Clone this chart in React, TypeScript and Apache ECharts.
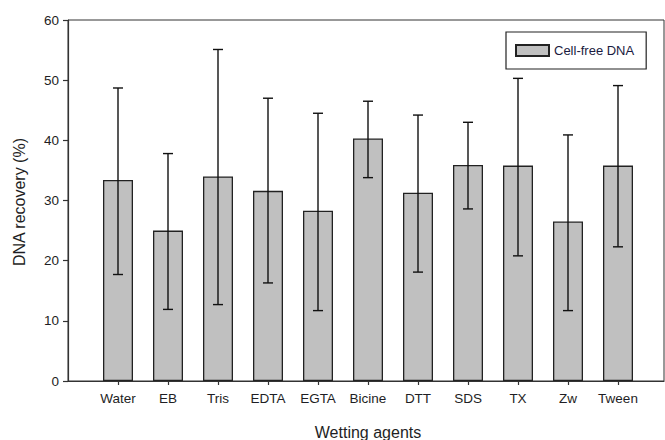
import React, { useEffect, useRef } from "react";
import * as echarts from "echarts";

const categories = ["Water", "EB", "Tris", "EDTA", "EGTA", "Bicine", "DTT", "SDS", "TX", "Zw", "Tween"];
const means = [33.4, 25.0, 34.0, 31.6, 28.3, 40.3, 31.3, 35.9, 35.8, 26.5, 35.8];
const upper = [48.7, 37.8, 55.1, 47.0, 44.5, 46.5, 44.2, 43.0, 50.3, 40.9, 49.1];
const lower = [17.7, 11.9, 12.7, 16.3, 11.7, 33.8, 18.1, 28.6, 20.8, 11.7, 22.3];
const yTicks = [0, 10, 20, 30, 40, 50, 60];

const FONT = "'Liberation Sans', Arial, sans-serif";
const TXT = "#1e1e24";

export default function App() {
  const ref = useRef<HTMLDivElement>(null);
  useEffect(() => {
    if (!ref.current) return;
    const chart = echarts.init(ref.current, null, { renderer: "svg" });
    const positions = categories.map((_, i) => i + 1);
    const option: any = {
      animation: false,
      backgroundColor: "#ffffff",
      textStyle: { fontFamily: FONT },
      grid: {
        left: 68,
        top: 20,
        right: 1,
        bottom: 59,
        show: true,
        borderColor: "#333",
        borderWidth: 1,
        containLabel: false,
      },
      legend: {
        show: true,
        left: 506,
        top: 32,
        width: 142,
        padding: [12, 12, 12, 9],
        itemWidth: 33,
        itemHeight: 11,
        borderColor: "#222",
        borderWidth: 1.2,
        icon: "rect",
        data: [{ name: "Cell-free DNA", icon: "rect" }],
        textStyle: { fontFamily: FONT, fontSize: 13, color: "#1a1a40" },
      },
      xAxis: {
        type: "value",
        min: 0,
        max: 11.92,
        interval: 1,
        splitLine: { show: false },
        axisLine: { show: true, lineStyle: { color: "#333", width: 1.2 } },
        axisTick: {
          show: true,
          length: 4,
          customValues: positions,
          lineStyle: { color: "#333", width: 1.2 },
        },
        axisLabel: {
          customValues: positions,
          margin: 10,
          fontFamily: FONT,
          fontSize: 13.5,
          color: TXT,
          formatter: (v: number) => categories[Math.round(v) - 1] ?? "",
        },
      },
      yAxis: {
        type: "value",
        min: 0,
        max: 60,
        interval: 10,
        splitLine: { show: false },
        axisLine: { show: true, lineStyle: { color: "#333", width: 1.2 } },
        axisTick: {
          show: true,
          length: 5,
          customValues: yTicks,
          lineStyle: { color: "#333", width: 1.2 },
        },
        axisLabel: {
          margin: 9,
          fontFamily: FONT,
          fontSize: 13.5,
          color: TXT,
        },
      },
      series: [
        {
          name: "Cell-free DNA",
          type: "bar",
          barWidth: 30,
          data: means.map((m, i) => [positions[i], m]),
          itemStyle: { color: "#c0c0c0", borderColor: "#222", borderWidth: 1.3 },
          z: 2,
        },
        {
          name: "err",
          type: "custom",
          z: 5,
          data: means.map((_, i) => [positions[i], lower[i], upper[i]]),
          renderItem: (params: any, api: any) => {
            const x = api.value(0);
            const lo = api.coord([x, api.value(1)]);
            const hi = api.coord([x, api.value(2)]);
            const hw = 5;
            const style = { stroke: "#111", lineWidth: 1.4, fill: "none" };
            return {
              type: "group",
              children: [
                { type: "line", shape: { x1: lo[0], y1: lo[1], x2: hi[0], y2: hi[1] }, style },
                { type: "line", shape: { x1: hi[0] - hw, y1: hi[1], x2: hi[0] + hw, y2: hi[1] }, style },
                { type: "line", shape: { x1: lo[0] - hw, y1: lo[1], x2: lo[0] + hw, y2: lo[1] }, style },
              ],
            };
          },
        },
      ],
      graphic: [
        {
          type: "text",
          x: 368,
          y: 432,
          style: {
            text: "Wetting agents",
            fontFamily: FONT,
            fontSize: 16,
            fill: TXT,
            align: "center",
            verticalAlign: "middle",
          },
        },
        {
          type: "text",
          x: 19,
          y: 202,
          rotation: Math.PI / 2,
          style: {
            text: "DNA recovery (%)",
            fontFamily: FONT,
            fontSize: 16,
            fill: TXT,
            align: "center",
            verticalAlign: "middle",
          },
        },
      ],
    };
    chart.setOption(option);
    return () => chart.dispose();
  }, []);
  return (
    <div
      ref={ref}
      style={{ position: "fixed", left: 0, top: 0, width: 665, height: 440, overflow: "hidden" }}
    />
  );
}
